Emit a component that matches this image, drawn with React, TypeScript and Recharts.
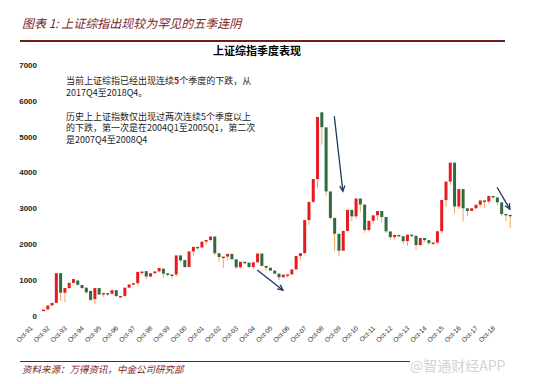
import { Bar, ComposedChart, ReferenceLine, XAxis, YAxis } from "recharts";

// quarterly candles, first one is Jul-91 (1991Q3), last Oct-18 (2018Q4)
const FIRST_YEAR = 1991;
const FIRST_QUARTER = 2; // 0=Jan, 1=Apr, 2=Jul, 3=Oct
const MONTHS = ["Jan", "Apr", "Jul", "Oct"];

const OPEN = [
  137, 181, 293, 365, 1195, 650, 780, 925, 990, 865,
  790, 700, 470, 780, 600, 640, 620, 720, 555, 560,
  790, 880, 917, 1200, 1250, 1100, 1194, 1243, 1320, 1190,
  1146, 1158, 1690, 1560, 1367, 1800, 1928, 1910, 2073, 2120,
  2218, 1750, 1646, 1657, 1732, 1581, 1358, 1511, 1487, 1367,
  1497, 1742, 1399, 1346, 1267, 1181, 1080, 1155, 1161, 1299,
  1672, 1753, 2675, 3183, 3821, 5680, 5262, 3473, 2736, 2293,
  1821, 2373, 2959, 2779, 3277, 3109, 2398, 2656, 2808, 2928,
  2762, 2359, 2199, 2262, 2225, 2086, 2269, 2237, 1979, 2175,
  2116, 2033, 2048, 2364, 3235, 3748, 4277, 3053, 3539, 3004,
  2930, 3005, 3104, 3223, 3192, 3349, 3307, 3169, 2847, 2821,
];

const CLOSE = [
  181, 293, 365, 1195, 650, 780, 925, 1030, 870, 780,
  660, 450, 780, 600, 640, 620, 720, 555, 560, 790,
  880, 917, 1230, 1240, 1100, 1194, 1243, 1339, 1180, 1146,
  1158, 1690, 1550, 1367, 1800, 1928, 1910, 2073, 2120, 2218,
  1750, 1646, 1657, 1732, 1581, 1358, 1511, 1487, 1367, 1497,
  1742, 1399, 1346, 1267, 1181, 1080, 1155, 1161, 1299, 1672,
  1753, 2675, 3183, 3821, 5552, 5262, 3473, 2736, 2293, 1821,
  2373, 2959, 2779, 3277, 3109, 2398, 2656, 2808, 2928, 2762,
  2359, 2199, 2262, 2225, 2086, 2269, 2237, 1979, 2175, 2116,
  2033, 2048, 2364, 3235, 3748, 4277, 3053, 3539, 3004, 2930,
  3005, 3104, 3223, 3192, 3349, 3307, 3169, 2847, 2821, 2780,
];

const LOW = [
  130, 178, 290, 360, 420, 386, 760, 900, 840, 760,
  620, 420, 325, 580, 524, 560, 600, 540, 512, 540,
  770, 855, 870, 1150, 1030, 1080, 1180, 1220, 1060, 1100,
  1047, 1100, 1500, 1341, 1361, 1680, 1850, 1900, 1990, 2080,
  1700, 1514, 1339, 1550, 1560, 1311, 1320, 1440, 1340, 1307,
  1490, 1380, 1260, 1259, 1176, 998, 1070, 1067, 1150, 1290,
  1541, 1740, 2541, 3150, 3563, 4778, 3357, 2693, 1802, 1664,
  1814, 2350, 2639, 2712, 2890, 2319, 2363, 2574, 2661, 2610,
  2307, 2132, 2132, 2200, 2001, 1949, 2200, 1849, 1950, 2060,
  1974, 1991, 2010, 2290, 3049, 3656, 2850, 2983, 2638, 2781,
  2930, 2980, 3044, 3016, 3138, 3254, 3091, 2782, 2645, 2449,
];

const Y_TICKS = [0, 1000, 2000, 3000, 4000, 5000, 6000, 7000];

// annotation arrows: [from category, from value, to category, to value]
const ARROWS: [string, number, string, number][] = [
  ["Jan-04", 1280, "Jul-05", 720],
  ["Jul-08", 5570, "Jan-09", 3480],
  ["Jan-18", 3590, "Oct-18", 2980],
];

const RED = "#e51c1f";
const GREEN = "#2e6b3f";
const WICK = "#f0a661";
const NAVY = "#1f3563";
const MAROON = "#6e1c1c";
const CJK = "'Noto Sans CJK SC', 'Noto Sans', sans-serif";

function quarterLabel(i: number) {
  const q = FIRST_QUARTER + i;
  const yr = (FIRST_YEAR + Math.floor(q / 4)) % 100;
  return `${MONTHS[q % 4]}-${String(yr).padStart(2, "0")}`;
}

const data = OPEN.map((o, i) => ({
  q: quarterLabel(i),
  open: o,
  close: CLOSE[i],
  low: LOW[i],
}));

function Candle(p: any) {
  const { x, y, width, height, payload } = p;
  const top = Math.max(payload.open, payload.close);
  const bot = Math.min(payload.open, payload.close);
  const span = top - payload.low;
  const y0 = Math.min(y, y + height);
  const h = Math.abs(height);
  const ppu = span > 0 ? h / span : 0;
  const bodyH = Math.max(1.5, (top - bot) * ppu);
  const cx = x + width / 2;
  return (
    <g>
      {h > bodyH && <line x1={cx} x2={cx} y1={y0 + bodyH} y2={y0 + h} stroke={WICK} strokeWidth={1} />}
      <rect x={x} y={y0} width={width} height={bodyH} fill={payload.close >= payload.open ? RED : GREEN} />
    </g>
  );
}

function Arrow(p: any) {
  const { x1, y1, x2, y2 } = p;
  const a = Math.atan2(y2 - y1, x2 - x1);
  const h = 6;
  const l = [x2 - h * Math.cos(a - 0.45), y2 - h * Math.sin(a - 0.45)];
  const r = [x2 - h * Math.cos(a + 0.45), y2 - h * Math.sin(a + 0.45)];
  return (
    <g stroke={NAVY} strokeWidth={1.3} fill="none">
      <line x1={x1} y1={y1} x2={x2} y2={y2} />
      <polyline points={`${l[0]},${l[1]} ${x2},${y2} ${r[0]},${r[1]}`} />
    </g>
  );
}

function XTick({ x, y, payload }: any) {
  if (!String(payload.value).startsWith("Oct")) return <g />;
  return (
    <text
      x={0}
      y={0}
      transform={`translate(${x - 16},${y + 3}) rotate(-45)`}
      textAnchor="end"
      dy="0.35em"
      fontSize={6.6}
      fontFamily="Arial, 'Liberation Sans', sans-serif"
      fill="#333"
    >
      {payload.value}
    </text>
  );
}

export default function App() {
  return (
    <div style={{ position: "absolute", left: 0, top: 0, width: 543, height: 384, background: "#fff", fontFamily: CJK }}>
      <div style={{ position: "absolute", left: 22, top: 17, fontSize: 12, lineHeight: "12px", fontStyle: "italic", color: "#7b2525", whiteSpace: "nowrap" }}>
        图表 1: 上证综指出现较为罕见的五季连阴
      </div>
      <div style={{ position: "absolute", left: 20, top: 40, width: 485, height: 1.5, background: MAROON }} />
      <div style={{ position: "absolute", left: 207, top: 44.5, width: 100, textAlign: "center", fontSize: 11, lineHeight: "11px", fontWeight: "bold", color: "#000" }}>
        上证综指季度表现
      </div>

      <ComposedChart
        width={543}
        height={384}
        data={data}
        margin={{ top: 65, right: 31, bottom: 38, left: 0 }}
        style={{ position: "absolute", left: 0, top: 0 }}
      >
        <XAxis dataKey="q" interval={0} height={30} axisLine={false} tickLine={false} tick={<XTick />} />
        <YAxis
          domain={[0, 7000]}
          ticks={Y_TICKS}
          width={41}
          axisLine={false}
          tickLine={false}
          tickSize={0}
          tickMargin={4}
          tick={{ fontSize: 8, fontWeight: "bold", fill: "#222", fontFamily: "Arial, 'Liberation Sans', sans-serif" }}
        />
        <Bar
          dataKey={(d: any) => [d.low, Math.max(d.open, d.close)]}
          barSize={3}
          shape={<Candle />}
          isAnimationActive={false}
        />
        {ARROWS.map(([a, av, b, bv], i) => (
          <ReferenceLine
            key={i}
            segment={[{ x: a, y: av }, { x: b, y: bv }]}
            shape={(p: any) => <Arrow {...p} />}
          />
        ))}
      </ComposedChart>

      <div style={{ position: "absolute", left: 66, top: 75, fontSize: 9, lineHeight: "12px", color: "#222", whiteSpace: "nowrap" }}>
        <div>
          当前上证综指已经出现连续<span style={{ color: "#e00000", fontWeight: "bold" }}>5</span>个季度的下跌，从
        </div>
        <div>2017Q4至2018Q4。</div>
      </div>
      <div style={{ position: "absolute", left: 66, top: 110.5, fontSize: 9, lineHeight: "11.5px", color: "#222", whiteSpace: "nowrap" }}>
        <div>历史上上证指数仅出现过两次连续5个季度以上</div>
        <div>的下跌，第一次是在2004Q1至2005Q1，第二次</div>
        <div>是2007Q4至2008Q4</div>
      </div>

      <div style={{ position: "absolute", left: 20, top: 360.5, width: 390, height: 1.5, background: MAROON }} />
      <div style={{ position: "absolute", left: 22, top: 364, fontSize: 9.5, lineHeight: "10px", fontStyle: "italic", color: "#7b2525", whiteSpace: "nowrap" }}>
        资料来源：万得资讯，中金公司研究部
      </div>
      <div style={{ position: "absolute", left: 410, top: 357, fontSize: 14, lineHeight: "16px", color: "#d2d2d2", whiteSpace: "nowrap" }}>
        @智通财经APP
      </div>
    </div>
  );
}
